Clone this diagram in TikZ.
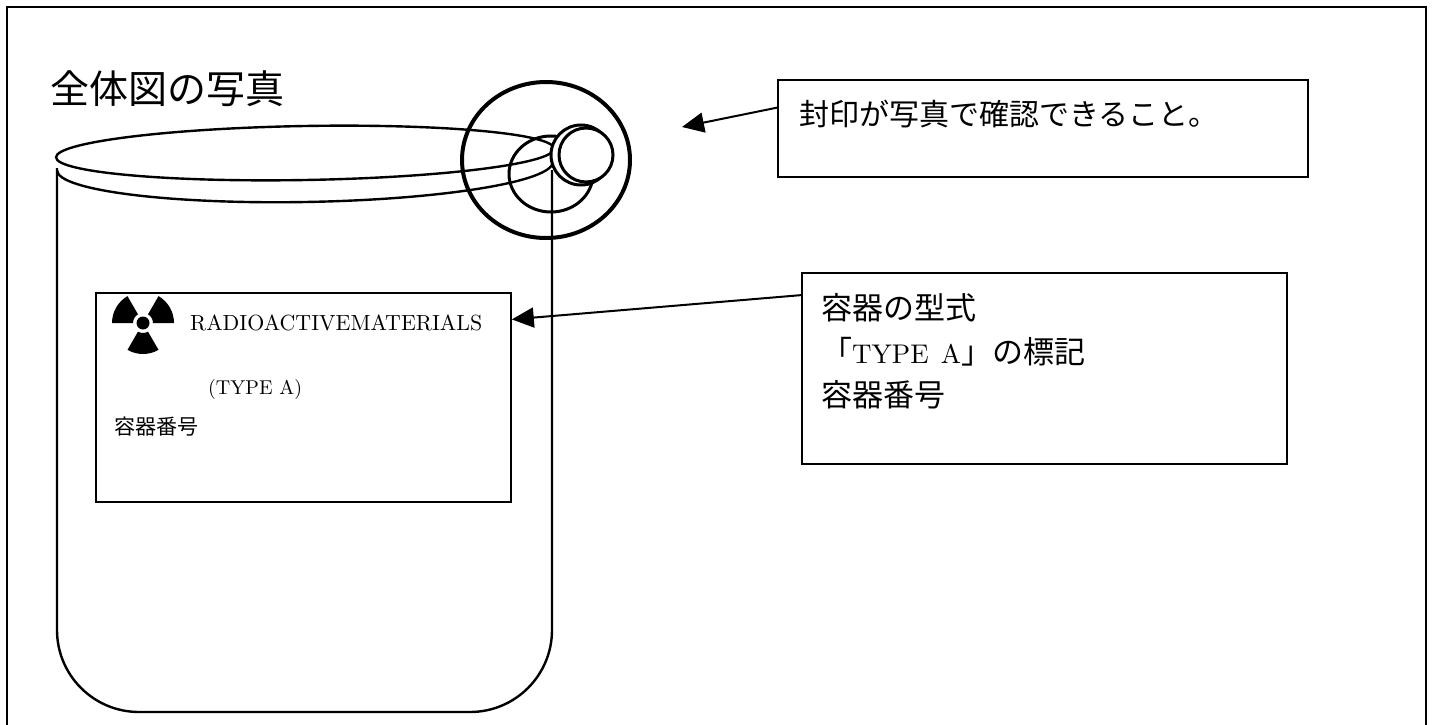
\documentclass[tikz,border=0pt]{standalone}
\usepackage{fontspec}
\newfontfamily\cjk{Noto Sans CJK JP}
\newfontfamily\romanten{lmroman10-regular.otf}
\usetikzlibrary{arrows.meta,calc}

\begin{document}
\begin{tikzpicture}[x=1pt,y=-1pt,
  frame/.style={line width=1.8pt},
  textbox/.style={draw,line width=1.8pt,rectangle,inner sep=0pt,anchor=north west},
  callout/.style={line width=2pt,-{Triangle[length=22pt,width=20pt]}},
  txt/.style={inner sep=0pt,anchor=base west},
  drum/.style={line width=2.4pt},
  sealring/.style={line width=4pt},
  knob/.style={line width=3pt,fill=white},
]
\useasboundingbox (0,0) rectangle (1434,725);

% page frame, open at the bottom
\draw[frame] (7,725) -- (7,7) -- (1426,7) -- (1426,725);

% title
\node[txt,font=\cjk\fontsize{39pt}{44pt}\selectfont] (title) at (50,103) {全体図の写真};

% drum body with rounded bottom
\draw[drum,rounded corners=82pt] (57,168) -- (57,712) -- (552,712) -- (552,170);

% rim: lid ellipse and the lower bead
\draw[drum,rotate around={1:(305,153)}] (305,153) ellipse [x radius=249, y radius=27];
\draw[drum,rotate around={1:(305,166)}] (57,166) arc[start angle=180, end angle=0, x radius=248, y radius=36];

% seal: loop, knob and marking ring
\draw[line width=3pt] (551,174) ellipse [x radius=42, y radius=38];
\draw[knob] (581,155) circle[radius=30];
\draw[knob] (586,155) circle[radius=27];
\draw[sealring] (546,160) ellipse [x radius=84, y radius=78];
\coordinate (sealtip) at (682,127);

% label plate on the drum
\node[textbox,minimum width=415pt,minimum height=209pt] (label) at (95,292) {};
\coordinate (tref) at (143,323);
\foreach \a in {330,210,90}{
  \fill ($(tref)+(\a-30:10)$) -- ($(tref)+(\a-30:31)$)
    arc[start angle=\a-30, end angle=\a+30, radius=31]
    -- ($(tref)+(\a+30:10)$)
    arc[start angle=\a+30, end angle=\a-30, radius=10] -- cycle;
}
\fill (tref) circle[radius=6.5];
\node[txt,font=\romanten\fontsize{21.9pt}{26pt}\selectfont] (radmat) at (190,330) {RADIOACTIVEMATERIALS};
\node[txt,font=\romanten\fontsize{20pt}{24pt}\selectfont] (typea) at (208,394) {(TYPE A)};
\node[txt,font=\cjk\fontsize{21pt}{25pt}\selectfont] (contno) at (114,434) {容器番号};

% note about the seal
\node[textbox,minimum width=530pt,minimum height=97pt] (note1) at (777,79) {};
\node[txt,font=\cjk\fontsize{30pt}{36pt}\selectfont] (note1txt) at (799,125) {封印が写真で確認できること。};

% note about the markings
\node[textbox,minimum width=485pt,minimum height=191pt] (note2) at (801,272) {};
\node[txt,font=\cjk\fontsize{31pt}{37pt}\selectfont] (n2a) at (821,319) {容器の型式};
\node[txt,font=\fontsize{31pt}{37pt}\selectfont] (n2b) at (821,363) {{\cjk 「}{\romanten\fontsize{27pt}{32pt}\selectfont TYPE\hspace{0.45em}A}{\cjk 」の標記}};
\node[txt,font=\cjk\fontsize{31pt}{37pt}\selectfont] (n2c) at (821,406) {容器番号};

% callout arrows
\draw[callout] ($(note1.north west)!0.29!(note1.south west)$) -- (sealtip);
\draw[callout] ($(note2.north west)!0.12!(note2.south west)$) -- ($(label.north east)!0.13!(label.south east)$);
\end{tikzpicture}
\end{document}
